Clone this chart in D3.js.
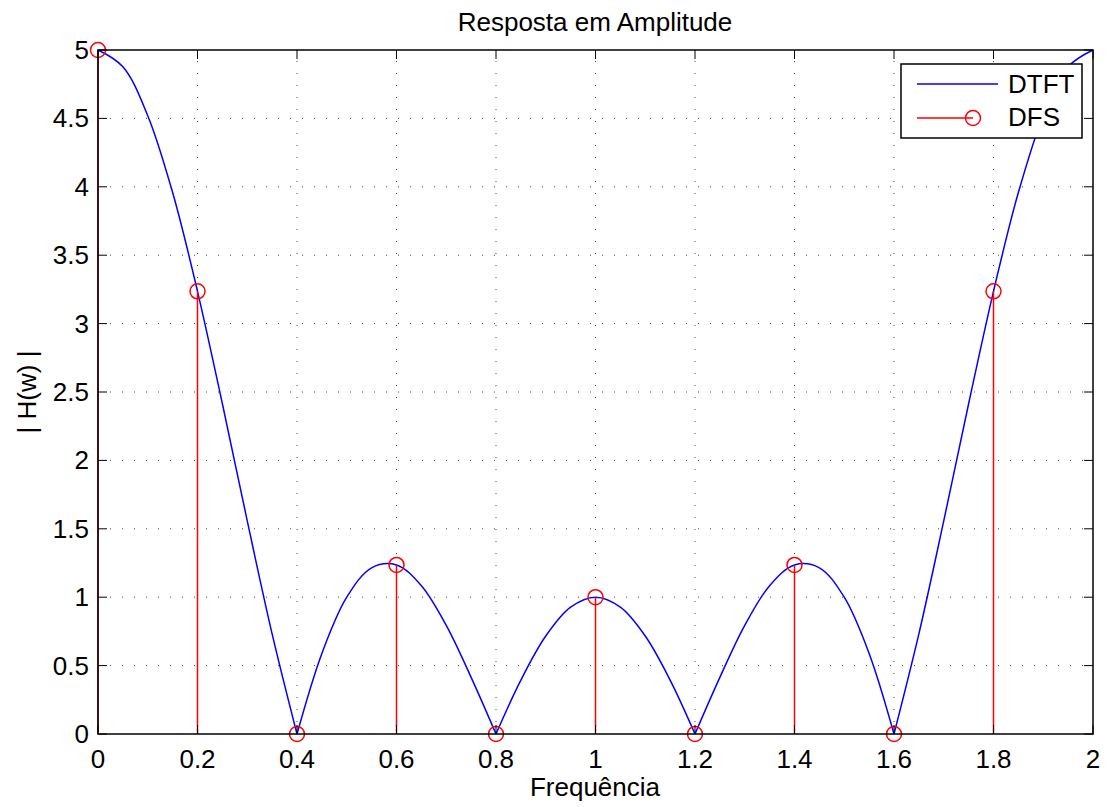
<!DOCTYPE html>
<html>
<head>
<meta charset="utf-8">
<script src="https://cdn.jsdelivr.net/npm/d3@7.9.0/dist/d3.min.js"></script>
<style>
  body { margin: 0; background: #fff; }
  svg { font-family: "Liberation Sans", Arial, sans-serif; }
</style>
</head>
<body>
<svg width="1111" height="807"></svg>
<script>
// DTFT magnitude, every 0.05
const dtftFreq = d3.range(41).map(i => +(i * 0.05).toFixed(2));
const dtftMag = [
  5.000, 4.877, 4.520, 3.958, 3.236, 2.414, 1.558, 0.732, 0.000,
  0.589, 1.000, 1.215, 1.236, 1.084, 0.794, 0.414, 0.000,
  0.394, 0.716, 0.927, 1.000, 0.927, 0.716, 0.394, 0.000,
  0.414, 0.794, 1.084, 1.236, 1.215, 1.000, 0.589, 0.000,
  0.732, 1.558, 2.414, 3.236, 3.958, 4.520, 4.877, 5.000
];
// DFS samples
const dfsFreq = [0, 0.2, 0.4, 0.6, 0.8, 1.0, 1.2, 1.4, 1.6, 1.8];
const dfsMag = [5, 3.236, 0, 1.236, 0, 1, 0, 1.236, 0, 3.236];

const xTicks = [0, 0.2, 0.4, 0.6, 0.8, 1, 1.2, 1.4, 1.6, 1.8, 2];
const yTicks = [0, 0.5, 1, 1.5, 2, 2.5, 3, 3.5, 4, 4.5, 5];

const svg = d3.select('svg');
const m = { left: 98, right: 1093, top: 50, bottom: 734 };
const fs = 26;

const x = d3.scaleLinear().domain([0, 2]).range([m.left, m.right]);
const y = d3.scaleLinear().domain([0, 5]).range([m.bottom, m.top]);

// grid
const grid = svg.append('g')
  .attr('stroke', '#444').attr('stroke-width', 1)
  .attr('stroke-dasharray', '1,11');
xTicks.slice(1, -1).forEach(t => {
  grid.append('line').attr('x1', x(t)).attr('x2', x(t))
    .attr('y1', m.bottom).attr('y2', m.top);
});
yTicks.slice(1, -1).forEach(t => {
  grid.append('line').attr('y1', y(t)).attr('y2', y(t))
    .attr('x1', m.left).attr('x2', m.right);
});

// DTFT curve, drawn lobe by lobe so the zeros stay sharp
const pts = dtftFreq.map((f, i) => [f, dtftMag[i]]);
const lobes = [];
let cur = [];
pts.forEach(p => {
  cur.push(p);
  if (p[1] === 0 && cur.length > 1) { lobes.push(cur); cur = [p]; }
});
if (cur.length > 1) lobes.push(cur);

const line = d3.line().x(d => x(d[0])).y(d => y(d[1])).curve(d3.curveCatmullRom);
lobes.forEach(l => {
  svg.append('path').attr('d', line(l))
    .attr('fill', 'none').attr('stroke', '#0000ff').attr('stroke-width', 1.5);
});

// DFS stems
dfsFreq.forEach((f, i) => {
  svg.append('line').attr('x1', x(f)).attr('x2', x(f))
    .attr('y1', y(0)).attr('y2', y(dfsMag[i]))
    .attr('stroke', '#ff0000').attr('stroke-width', 1.5);
});
dfsFreq.forEach((f, i) => {
  svg.append('circle').attr('cx', x(f)).attr('cy', y(dfsMag[i])).attr('r', 7.5)
    .attr('fill', 'none').attr('stroke', '#ff0000').attr('stroke-width', 1.5);
});

// axes box with inward ticks on all sides
const axisG = svg.append('g');
axisG.append('rect').attr('x', m.left).attr('y', m.top)
  .attr('width', m.right - m.left).attr('height', m.bottom - m.top)
  .attr('fill', 'none').attr('stroke', '#000').attr('stroke-width', 1.5);

const tl = 9;
xTicks.forEach(t => {
  axisG.append('line').attr('x1', x(t)).attr('x2', x(t)).attr('y1', m.bottom).attr('y2', m.bottom - tl)
    .attr('stroke', '#000');
  axisG.append('line').attr('x1', x(t)).attr('x2', x(t)).attr('y1', m.top).attr('y2', m.top + tl)
    .attr('stroke', '#000');
  axisG.append('text').attr('x', x(t)).attr('y', m.bottom + 34)
    .attr('text-anchor', 'middle').attr('font-size', fs).text(t);
});
yTicks.forEach(t => {
  axisG.append('line').attr('y1', y(t)).attr('y2', y(t)).attr('x1', m.left).attr('x2', m.left + tl)
    .attr('stroke', '#000');
  axisG.append('line').attr('y1', y(t)).attr('y2', y(t)).attr('x1', m.right).attr('x2', m.right - tl)
    .attr('stroke', '#000');
  axisG.append('text').attr('x', m.left - 9).attr('y', y(t) + 9)
    .attr('text-anchor', 'end').attr('font-size', fs).text(t);
});

// labels
svg.append('text').attr('x', 595).attr('y', 31)
  .attr('text-anchor', 'middle').attr('font-size', fs).text('Resposta em Amplitude');
svg.append('text').attr('x', 595).attr('y', 796)
  .attr('text-anchor', 'middle').attr('font-size', fs).text('Frequência');
svg.append('text').attr('transform', `translate(36,${(m.top + m.bottom) / 2}) rotate(-90)`)
  .attr('text-anchor', 'middle').attr('font-size', fs).text('| H(w) |');

// legend
const lg = svg.append('g');
lg.append('rect').attr('x', 901).attr('y', 64).attr('width', 181).attr('height', 74)
  .attr('fill', '#fff').attr('stroke', '#000').attr('stroke-width', 1.5);
lg.append('line').attr('x1', 917).attr('x2', 998).attr('y1', 84).attr('y2', 84)
  .attr('stroke', '#0000ff').attr('stroke-width', 1.5);
lg.append('line').attr('x1', 917).attr('x2', 973).attr('y1', 118).attr('y2', 118)
  .attr('stroke', '#ff0000').attr('stroke-width', 1.5);
lg.append('circle').attr('cx', 973).attr('cy', 118).attr('r', 7.5)
  .attr('fill', 'none').attr('stroke', '#ff0000').attr('stroke-width', 1.5);
lg.append('text').attr('x', 1008).attr('y', 93).attr('font-size', fs).text('DTFT');
lg.append('text').attr('x', 1008).attr('y', 126).attr('font-size', fs).text('DFS');
</script>
</body>
</html>
